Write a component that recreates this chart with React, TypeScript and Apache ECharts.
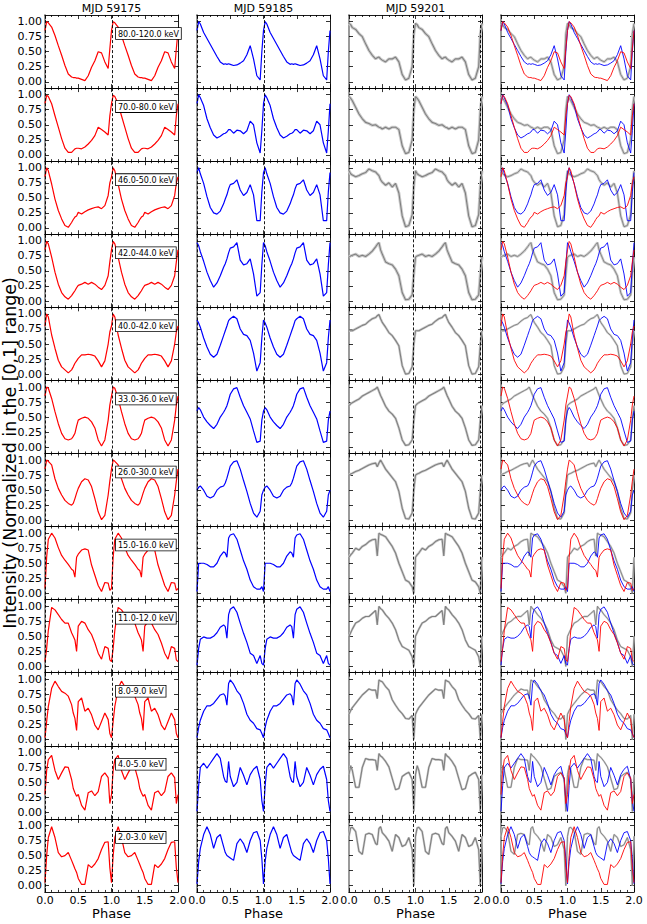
import React, { useEffect, useRef } from "react";
import * as echarts from "echarts";

// phase grid of one cycle (the profile is drawn twice, 0-2)
const PHASE = [0, 0.025, 0.05, 0.1, 0.15, 0.2, 0.25, 0.3, 0.35, 0.4, 0.425, 0.45, 0.475, 0.5, 0.55, 0.6, 0.65, 0.7, 0.75, 0.8, 0.85, 0.9, 0.95, 0.975];

const BANDS = [
  "80.0-120.0 keV", "70.0-80.0 keV", "46.0-50.0 keV", "42.0-44.0 keV",
  "40.0-42.0 keV", "33.0-36.0 keV", "26.0-30.0 keV", "15.0-16.0 keV",
  "11.0-12.0 keV", "8.0-9.0 keV", "4.0-5.0 keV", "2.0-3.0 keV",
];

const EPOCHS = ["MJD 59175", "MJD 59185", "MJD 59201"];

const X_TICKS = [0, 0.5, 1, 1.5, 2];
const Y_TICKS = [0, 0.25, 0.5, 0.75, 1];

// dashed reference phases per epoch column
const DASHED = [[0.01, 1.01], [0.01, 1.015], [0.965, 1.97]];

const MJD59175 = [
  [0.85, 1.0, 0.98, 0.91, 0.77, 0.6, 0.44, 0.27, 0.13, 0.08, 0.07, 0.07, 0.06, 0.06, 0.04, 0.02, 0.1, 0.24, 0.35, 0.5, 0.48, 0.33, 0.22, 0.55],
  [0.85, 0.99, 0.97, 0.85, 0.65, 0.46, 0.27, 0.11, 0.04, 0.04, 0.07, 0.1, 0.11, 0.11, 0.1, 0.13, 0.18, 0.24, 0.32, 0.46, 0.42, 0.38, 0.33, 0.65],
  [0.85, 1.0, 0.95, 0.73, 0.48, 0.29, 0.15, 0.04, 0.01, 0.09, 0.14, 0.18, 0.2, 0.26, 0.23, 0.27, 0.3, 0.32, 0.34, 0.35, 0.32, 0.37, 0.54, 0.75],
  [0.85, 0.99, 0.95, 0.73, 0.48, 0.28, 0.14, 0.07, 0.03, 0.09, 0.13, 0.17, 0.22, 0.26, 0.28, 0.31, 0.28, 0.31, 0.28, 0.23, 0.19, 0.26, 0.42, 0.65],
  [0.8, 1.0, 0.95, 0.65, 0.43, 0.23, 0.12, 0.07, 0.02, 0.07, 0.12, 0.18, 0.22, 0.26, 0.32, 0.32, 0.33, 0.32, 0.3, 0.22, 0.12, 0.22, 0.5, 0.7],
  [0.85, 1.0, 0.98, 0.81, 0.59, 0.39, 0.23, 0.14, 0.12, 0.14, 0.18, 0.23, 0.35, 0.45, 0.48, 0.5, 0.48, 0.42, 0.32, 0.12, 0.02, 0.12, 0.45, 0.7],
  [0.85, 1.0, 0.98, 0.92, 0.69, 0.53, 0.42, 0.33, 0.28, 0.25, 0.28, 0.36, 0.45, 0.53, 0.64, 0.69, 0.67, 0.56, 0.36, 0.14, 0.01, 0.08, 0.42, 0.65],
  [0.08, 0.6, 0.9, 1.0, 0.92, 0.76, 0.63, 0.55, 0.48, 0.4, 0.38, 0.27, 0.6, 0.65, 0.72, 0.74, 0.72, 0.47, 0.3, 0.13, 0.03, 0.18, 0.17, 0.05],
  [0.08, 0.3, 0.6, 0.98, 0.94, 0.86, 0.78, 0.72, 0.72, 0.56, 0.5, 0.44, 0.25, 0.67, 0.75, 0.72, 0.61, 0.53, 0.39, 0.22, 0.12, 0.33, 0.3, 0.11],
  [0.03, 0.3, 0.55, 0.85, 0.97, 0.88, 0.8, 0.77, 0.72, 0.58, 0.44, 0.35, 0.15, 0.63, 0.69, 0.47, 0.52, 0.41, 0.24, 0.16, 0.3, 0.44, 0.33, 0.1],
  [0.3, 0.7, 0.88, 0.95, 0.7, 0.55, 0.66, 0.76, 0.75, 0.55, 0.4, 0.33, 0.27, 0.3, 0.12, 0.04, 0.33, 0.36, 0.28, 0.35, 0.6, 0.66, 0.58, 0.15],
  [0.05, 0.5, 0.8, 0.98, 0.8, 0.55, 0.48, 0.5, 0.55, 0.42, 0.35, 0.28, 0.22, 0.12, 0.02, 0.02, 0.35, 0.3, 0.36, 0.45, 0.6, 0.72, 0.73, 0.3],
];

const MJD59185 = [
  [0.85, 1.0, 0.96, 0.82, 0.72, 0.62, 0.52, 0.42, 0.33, 0.29, 0.3, 0.29, 0.3, 0.29, 0.27, 0.28, 0.31, 0.35, 0.45, 0.6, 0.38, 0.1, 0.03, 0.5],
  [0.85, 1.0, 0.95, 0.82, 0.6, 0.45, 0.33, 0.28, 0.31, 0.35, 0.36, 0.38, 0.42, 0.42, 0.36, 0.41, 0.4, 0.35, 0.4, 0.56, 0.5, 0.2, 0.03, 0.4],
  [0.92, 1.0, 0.9, 0.74, 0.52, 0.34, 0.25, 0.23, 0.28, 0.4, 0.48, 0.55, 0.65, 0.72, 0.74, 0.8, 0.63, 0.54, 0.59, 0.72, 0.55, 0.12, 0.12, 0.6],
  [0.97, 0.92, 0.82, 0.66, 0.48, 0.34, 0.23, 0.3, 0.42, 0.56, 0.62, 0.7, 0.8, 0.88, 0.9, 0.97, 0.68, 0.6, 0.62, 0.7, 0.45, 0.08, 0.14, 0.6],
  [0.9, 0.85, 0.78, 0.6, 0.45, 0.33, 0.28, 0.33, 0.48, 0.64, 0.72, 0.8, 0.89, 0.92, 0.96, 0.92, 0.75, 0.66, 0.64, 0.56, 0.35, 0.05, 0.19, 0.6],
  [0.6, 0.66, 0.62, 0.5, 0.42, 0.36, 0.31, 0.38, 0.5, 0.58, 0.63, 0.69, 0.78, 0.88, 0.97, 0.99, 0.83, 0.69, 0.58, 0.47, 0.27, 0.08, 0.1, 0.45],
  [0.5, 0.55, 0.57, 0.5, 0.4, 0.37, 0.4, 0.5, 0.55, 0.57, 0.62, 0.7, 0.8, 0.9, 0.97, 0.99, 0.85, 0.66, 0.48, 0.28, 0.12, 0.05, 0.15, 0.42],
  [0.03, 0.5, 0.5, 0.5, 0.48, 0.44, 0.44, 0.5, 0.62, 0.69, 0.67, 0.6, 0.92, 0.97, 0.99, 0.9, 0.72, 0.54, 0.4, 0.22, 0.11, 0.07, 0.07, 0.11],
  [0.02, 0.3, 0.45, 0.49, 0.47, 0.47, 0.5, 0.56, 0.65, 0.69, 0.66, 0.47, 0.86, 0.95, 0.99, 0.9, 0.72, 0.55, 0.4, 0.22, 0.18, 0.05, 0.18, 0.05],
  [0.03, 0.2, 0.32, 0.47, 0.56, 0.56, 0.6, 0.67, 0.74, 0.76, 0.72, 0.57, 0.93, 0.99, 0.92, 0.81, 0.74, 0.6, 0.42, 0.32, 0.27, 0.18, 0.16, 0.1],
  [0.02, 0.45, 0.75, 0.82, 0.74, 0.82, 0.9, 0.98, 0.9, 0.6, 0.52, 0.5, 0.85, 0.6, 0.43, 0.5, 0.75, 0.62, 0.46, 0.63, 0.72, 0.77, 0.55, 0.2],
  [0.03, 0.4, 0.62, 0.85, 0.98, 0.85, 0.62, 0.8, 0.85, 0.65, 0.55, 0.5, 0.48, 0.46, 0.42, 0.7, 0.78, 0.7, 0.55, 0.75, 0.88, 0.9, 0.75, 0.45],
];

const MJD59201 = [
  [0.97, 0.95, 0.9, 0.87, 0.8, 0.75, 0.63, 0.52, 0.44, 0.38, 0.4, 0.41, 0.38, 0.36, 0.33, 0.38, 0.38, 0.41, 0.33, 0.12, 0.03, 0.06, 0.25, 0.8],
  [0.97, 0.94, 0.9, 0.79, 0.68, 0.6, 0.54, 0.52, 0.49, 0.5, 0.48, 0.46, 0.45, 0.43, 0.46, 0.43, 0.46, 0.46, 0.42, 0.15, 0.02, 0.04, 0.25, 0.75],
  [0.95, 0.9, 0.88, 0.85, 0.87, 0.9, 0.92, 0.98, 0.95, 0.93, 0.9, 0.87, 0.8, 0.76, 0.71, 0.75, 0.68, 0.74, 0.58, 0.2, 0.02, 0.04, 0.22, 0.7],
  [0.73, 0.75, 0.76, 0.78, 0.74, 0.76, 0.74, 0.78, 0.83, 0.9, 0.94, 0.97, 0.85, 0.78, 0.65, 0.62, 0.6, 0.53, 0.42, 0.14, 0.02, 0.03, 0.1, 0.45],
  [0.72, 0.72, 0.72, 0.75, 0.78, 0.81, 0.83, 0.88, 0.92, 0.94, 0.97, 0.99, 0.92, 0.86, 0.78, 0.69, 0.64, 0.56, 0.47, 0.14, 0.0, 0.01, 0.12, 0.5],
  [0.69, 0.72, 0.74, 0.77, 0.8, 0.85, 0.88, 0.91, 0.94, 0.97, 1.0, 0.93, 0.86, 0.8, 0.68, 0.6, 0.55, 0.48, 0.32, 0.12, 0.03, 0.04, 0.12, 0.45],
  [0.75, 0.77, 0.78, 0.81, 0.83, 0.86, 0.89, 0.92, 0.94, 0.95, 0.89, 0.95, 1.0, 0.95, 0.85, 0.78, 0.71, 0.64, 0.48, 0.2, 0.03, 0.02, 0.12, 0.5],
  [0.6, 0.64, 0.67, 0.75, 0.72, 0.78, 0.81, 0.86, 0.89, 0.9, 0.62, 1.0, 0.98, 0.97, 0.94, 0.86, 0.78, 0.67, 0.5, 0.36, 0.22, 0.19, 0.11, 0.0],
  [0.5, 0.56, 0.62, 0.72, 0.75, 0.8, 0.83, 0.83, 0.88, 0.93, 0.69, 1.0, 0.96, 0.94, 0.86, 0.8, 0.72, 0.61, 0.44, 0.33, 0.3, 0.27, 0.16, 0.0],
  [0.42, 0.48, 0.53, 0.6, 0.67, 0.74, 0.79, 0.84, 0.82, 0.82, 0.68, 0.99, 0.97, 0.96, 0.88, 0.82, 0.66, 0.57, 0.49, 0.43, 0.35, 0.34, 0.4, 0.0],
  [0.63, 0.78, 0.7, 0.42, 0.42, 0.75, 0.9, 0.88, 0.88, 0.87, 0.7, 0.98, 0.94, 0.92, 0.85, 0.76, 0.57, 0.38, 0.4, 0.6, 0.64, 0.67, 0.55, 0.02],
  [0.82, 0.96, 0.97, 0.9, 0.57, 0.52, 0.85, 0.87, 0.85, 0.7, 0.68, 0.95, 0.98, 0.88, 0.82, 0.74, 0.57, 0.85, 0.8, 0.65, 0.68, 0.8, 0.6, 0.0],
];

const FONT = "DejaVu Sans";
const RED = "#ff0000";
const BLUE = "#0000ff";
const GRAY = "#808080";
const GRAY_ERR = "#cccccc";

const LEFTS = [45, 197, 349, 501];
const PW = 133;
const TOP0 = 15;
const RH = 73.08;

function twoCycles(vals: number[]) {
  const pts: number[][] = [];
  for (let c = 0; c < 2; c++) {
    PHASE.forEach((p, i) => pts.push([p + c, vals[i]]));
  }
  pts.push([2, vals[0]]);
  return pts;
}

function buildOption() {
  const grid: any[] = [];
  const xAxis: any[] = [];
  const yAxis: any[] = [];
  const series: any[] = [];
  const graphic: any[] = [];
  const nR = BANDS.length;

  for (let r = 0; r < nR; r++) {
    for (let c = 0; c < 4; c++) {
      const gi = r * 4 + c;
      grid.push({ left: LEFTS[c], top: TOP0 + r * RH, width: PW, height: RH });
      const tickStyle = { color: "#000", width: 0.8 };
      const isBottom = r === nR - 1;
      xAxis.push({
        type: "value", gridIndex: gi, position: "bottom", min: 0, max: 2, interval: 0.5,
        axisLine: { show: true, onZero: false, lineStyle: { color: "#000", width: 0.9 } },
        axisTick: { show: true, inside: true, length: 4, lineStyle: tickStyle },
        minorTick: { show: true, splitNumber: 5, length: 2, lineStyle: tickStyle },
        splitLine: { show: false }, minorSplitLine: { show: false },
        axisLabel: {
          show: isBottom, margin: 3, fontSize: 11, fontFamily: FONT, color: "#000",
          customValues: X_TICKS, formatter: (v: number) => v.toFixed(1),
        },
        name: isBottom ? "Phase" : "", nameLocation: "middle", nameGap: 13,
        nameTextStyle: { fontSize: 13, fontFamily: FONT, color: "#000" },
      });
      xAxis.push({
        type: "value", gridIndex: gi, position: "top", min: 0, max: 2, interval: 0.5,
        axisLine: { show: true, onZero: false, lineStyle: { color: "#000", width: 0.9 } },
        axisTick: { show: true, inside: true, length: 4, lineStyle: tickStyle },
        minorTick: { show: true, splitNumber: 5, length: 2, lineStyle: tickStyle },
        splitLine: { show: false }, minorSplitLine: { show: false },
        axisLabel: { show: false },
      });
      yAxis.push({
        type: "value", gridIndex: gi, position: "left", min: -0.105, max: 1.11,
        axisLine: { show: true, onZero: false, lineStyle: { color: "#9a9a9a", width: 2 } },
        axisTick: { show: true, inside: true, length: 4, lineStyle: tickStyle, customValues: Y_TICKS },
        splitLine: { show: false },
        axisLabel: {
          show: c === 0, margin: 3, fontSize: 11, fontFamily: FONT, color: "#000",
          customValues: Y_TICKS, formatter: (v: number) => v.toFixed(2),
        },
      });
      yAxis.push({
        type: "value", gridIndex: gi, position: "right", min: -0.105, max: 1.11,
        axisLine: { show: true, onZero: false, lineStyle: { color: "#000", width: 0.9 } },
        axisTick: { show: true, inside: true, length: 4, lineStyle: tickStyle, customValues: Y_TICKS },
        splitLine: { show: false },
        axisLabel: { show: false },
      });

      const xi = 2 * gi;
      const yi = 2 * gi;
      const base = {
        type: "line", xAxisIndex: xi, yAxisIndex: yi, showSymbol: false, symbol: "none",
        silent: true, animation: false,
      };
      const errW = r < 4 ? 3 : r < 8 ? 2.5 : 2.2;
      const mark = (col: number) => ({
        silent: true, symbol: ["none", "none"], label: { show: false },
        lineStyle: { type: [3, 2], color: "#000", width: 0.9 },
        data: DASHED[col].map((x) => ({ xAxis: x })),
      });

      if (c === 0) {
        series.push({ ...base, data: twoCycles(MJD59175[r]), lineStyle: { color: RED, width: 1.2 }, markLine: mark(0) });
      } else if (c === 1) {
        series.push({ ...base, data: twoCycles(MJD59185[r]), lineStyle: { color: BLUE, width: 1.2 }, markLine: mark(1) });
      } else if (c === 2) {
        series.push({ ...base, data: twoCycles(MJD59201[r]), lineStyle: { color: GRAY_ERR, width: errW } });
        series.push({ ...base, data: twoCycles(MJD59201[r]), lineStyle: { color: GRAY, width: 1.1 }, markLine: mark(2) });
      } else {
        series.push({ ...base, data: twoCycles(MJD59201[r]), lineStyle: { color: GRAY_ERR, width: errW - 0.4 } });
        series.push({ ...base, data: twoCycles(MJD59201[r]), lineStyle: { color: GRAY, width: 0.9 } });
        series.push({ ...base, data: twoCycles(MJD59185[r]), lineStyle: { color: BLUE, width: 0.9 } });
        series.push({ ...base, data: twoCycles(MJD59175[r]), lineStyle: { color: RED, width: 0.9 } });
      }
    }
    graphic.push({
      type: "text", x: 116, y: TOP0 + r * RH + 13, z: 100,
      style: {
        text: BANDS[r], fontSize: 8, fontFamily: FONT, fill: "#000",
        align: "left", verticalAlign: "top",
        backgroundColor: "#fff", borderColor: "#000", borderWidth: 0.8, padding: [2, 2, 1, 2],
      },
    });
  }

  EPOCHS.forEach((t, c) => {
    graphic.push({
      type: "text", x: LEFTS[c] + PW / 2, y: 8, z: 100,
      style: { text: t, fontSize: 11, fontFamily: FONT, fill: "#000", align: "center", verticalAlign: "middle" },
    });
  });

  graphic.push({
    type: "text", x: 10, y: 453, rotation: Math.PI / 2, z: 100,
    style: {
      text: "Intensity (Normalized in the [0,1] range)", fontSize: 17.4, fontFamily: FONT,
      fill: "#000", align: "center", verticalAlign: "middle",
    },
  });

  return {
    animation: false,
    backgroundColor: "#fff",
    textStyle: { fontFamily: FONT },
    grid, xAxis, yAxis, series, graphic,
  };
}

export default function App() {
  const ref = useRef<HTMLDivElement>(null);
  useEffect(() => {
    if (!ref.current) return;
    const chart = echarts.init(ref.current, undefined, { renderer: "svg" });
    chart.setOption(buildOption() as any);
    return () => chart.dispose();
  }, []);
  return (
    <div
      ref={ref}
      style={{ position: "absolute", left: 0, top: 0, width: 647, height: 924, background: "#fff" }}
    />
  );
}
